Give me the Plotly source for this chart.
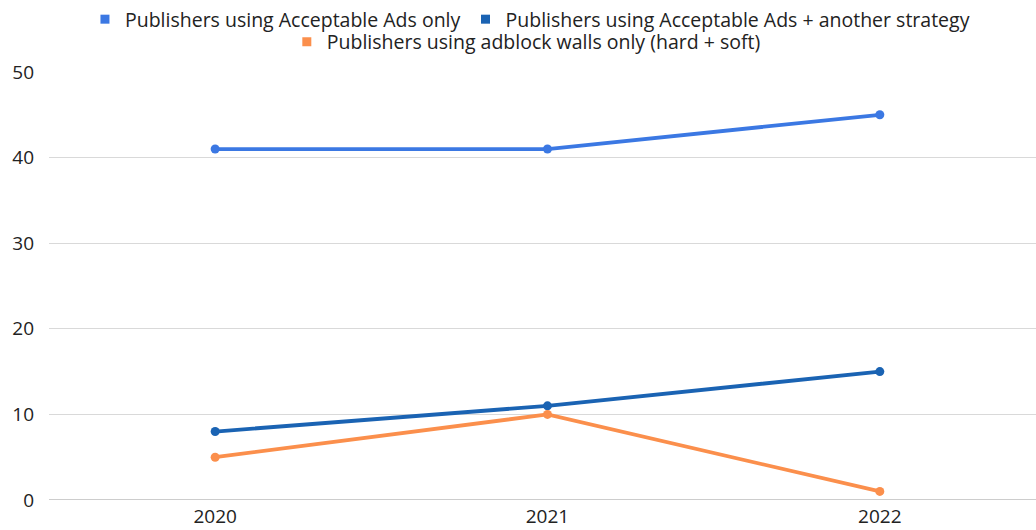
import plotly.graph_objects as go

years = ["2020", "2021", "2022"]
aa_only = [41, 41, 45]
aa_plus = [8, 11, 15]
walls_only = [5, 10, 1]

names = [
    "Publishers using Acceptable Ads only",
    "Publishers using Acceptable Ads + another strategy",
    "Publishers using adblock walls only (hard + soft)",
]
colors = ["#3b78e3", "#1a63b3", "#fb8f4c"]
series = [aa_only, aa_plus, walls_only]
legends = ["legend", "legend", "legend2"]

fig = go.Figure()
for name, col, vals in zip(names, colors, series):
    fig.add_trace(go.Scatter(
        x=years, y=vals, mode="lines+markers", name=name,
        line=dict(color=col, width=3.8), marker=dict(color=col, size=9),
        showlegend=False, hoverinfo="x+y",
    ))
for name, col, lg in zip(names, colors, legends):
    fig.add_trace(go.Scatter(
        x=[None], y=[None], mode="markers", name=name,
        marker=dict(color=col, size=9, symbol="square"),
        legend=lg, showlegend=True,
    ))

font = dict(family="Open Sans", size=19.5, color="#222222")
tickfont = dict(family="Open Sans", size=19, color="#222222")
fig.update_layout(
    width=1036, height=530,
    margin=dict(l=49, r=0, t=72, b=30),
    plot_bgcolor="white", paper_bgcolor="white",
    font=font,
    legend=dict(orientation="h", xref="paper", yref="paper",
                x=0.4873, xanchor="center", y=1.1238, yanchor="middle",
                font=font, itemwidth=30, tracegroupgap=0,
                bgcolor="rgba(0,0,0,0)"),
    legend2=dict(orientation="h", xref="paper", yref="paper",
                 x=0.4836, xanchor="center", y=1.0701, yanchor="middle",
                 font=font, itemwidth=30,
                 bgcolor="rgba(0,0,0,0)"),
    xaxis=dict(type="category", range=[-0.5, 2.47], showgrid=False,
               zeroline=False, showline=False, ticks="",
               tickfont=tickfont, ticklabelstandoff=3),
    yaxis=dict(range=[0, 50], dtick=10, showgrid=True, gridcolor="#d9d9d9",
               gridwidth=1, zeroline=False, showline=False, ticks="",
               tickfont=tickfont, ticklabelstandoff=14),
    shapes=[dict(type="line", xref="paper", yref="y", x0=0, x1=1, y0=0, y1=0,
                 line=dict(color="#bdbdbd", width=1.5), layer="below")],
)

fig.write_html("out.html")
